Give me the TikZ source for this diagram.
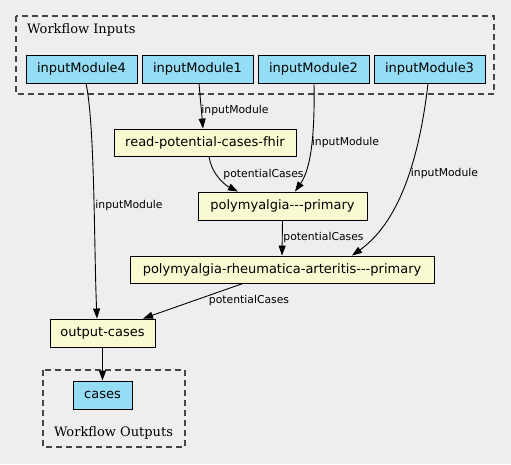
\documentclass[tikz,border=0pt]{standalone}
\usepackage{fontspec}
\setmainfont[Ligatures=TeXOff]{DejaVu Sans}
\newfontfamily\serifc{DejaVu Serif}
\usetikzlibrary{arrows.meta,calc}
\definecolor{bgc}{HTML}{EEEEEE}
\definecolor{inpc}{HTML}{94DDF4}
\definecolor{stepc}{HTML}{FAFAD2}
\definecolor{clc}{HTML}{444444}
\tikzset{
  box/.style={draw=black, line width=0.9pt, inner sep=0pt, minimum height=28pt, font=\fontsize{13}{13}\selectfont},
  inbox/.style={box, fill=inpc},
  stepbox/.style={box, fill=stepc},
  cluster/.style={draw=clc, line width=1.2pt, dash pattern=on 6pt off 4pt},
  clabel/.style={font=\serifc\fontsize{13}{13}\selectfont, inner sep=0pt},
  elabel/.style={font=\fontsize{10.8}{10.8}\selectfont, inner sep=0pt},
  edge/.style={draw=black, line width=0.9pt, -{Triangle[length=10pt,width=7pt]}},
}
\begin{document}
\begin{tikzpicture}[x=1pt,y=-1pt]
\fill[bgc] (0,0) rectangle (511,464);
\useasboundingbox (0,0) rectangle (511,464);
% clusters
\draw[cluster] (16,16) rectangle (494,94);
\node[clabel, anchor=west] (lin) at (27,30) {Workflow Inputs};
\draw[cluster] (43,370) rectangle (185,447);
\node[clabel] (lout) at (113.5,433) {Workflow Outputs};
% nodes
\node[inbox, minimum width=111pt] (im4) at (81.5,69) {inputModule4};
\node[inbox, minimum width=111pt] (im1) at (197.5,69) {inputModule1};
\node[inbox, minimum width=111pt] (im2) at (313.5,69) {inputModule2};
\node[inbox, minimum width=111pt] (im3) at (429.5,69) {inputModule3};
\node[stepbox, minimum width=182pt, minimum height=27pt] (read) at (205,142.5) {read-potential-cases-fhir};
\node[stepbox, minimum width=169pt] (pp) at (282.5,206) {polymyalgia---primary};
\node[stepbox, minimum width=304pt, minimum height=27pt] (pra) at (282,269.5) {polymyalgia-rheumatica-arteritis---primary};
\node[stepbox, minimum width=105pt] (out) at (102.5,333) {output-cases};
\node[inbox, minimum width=59pt] (cases) at (102.5,395) {cases};
% edges
\draw[edge] ($(im4.south)+(4.5,0)$) .. controls (95,125) and (94,250) .. ($(out.north)+(-5.5,0)$);
\node[elabel] (l4) at (129,206) {inputModule};
\draw[edge] ($(im1.south)+(1.5,0)$) -- ($(read.north)+(-2,0)$);
\node[elabel] (l1) at (235,110.5) {inputModule};
\draw[edge] ($(im2.south)+(0.5,0)$) .. controls (315,140) and (310,170) .. ($(pp.north)+(12.5,0)$);
\node[elabel] (l2) at (345.5,143) {inputModule};
\draw[edge] ($(im3.south)+(-1.5,0)$) .. controls (418,170) and (395,225) .. ($(pra.north)+(70,0)$);
\node[elabel] (l3) at (444.5,174) {inputModule};
\draw[edge] ($(read.south)+(4,0)$) .. controls (212,175) and (225,185) .. ($(pp.north)+(-44.5,0)$);
\node[elabel] (l5) at (263.5,174.5) {potentialCases};
\draw[edge] (pp.south) -- (pra.north);
\node[elabel] (l6) at (323.5,238) {potentialCases};
\draw[edge] ($(pra.south)+(-39,0)$) -- ($(out.north)+(40.5,0)$);
\node[elabel] (l7) at (249,301) {potentialCases};
\draw[edge] (out.south) -- (cases.north);
\end{tikzpicture}
\end{document}
